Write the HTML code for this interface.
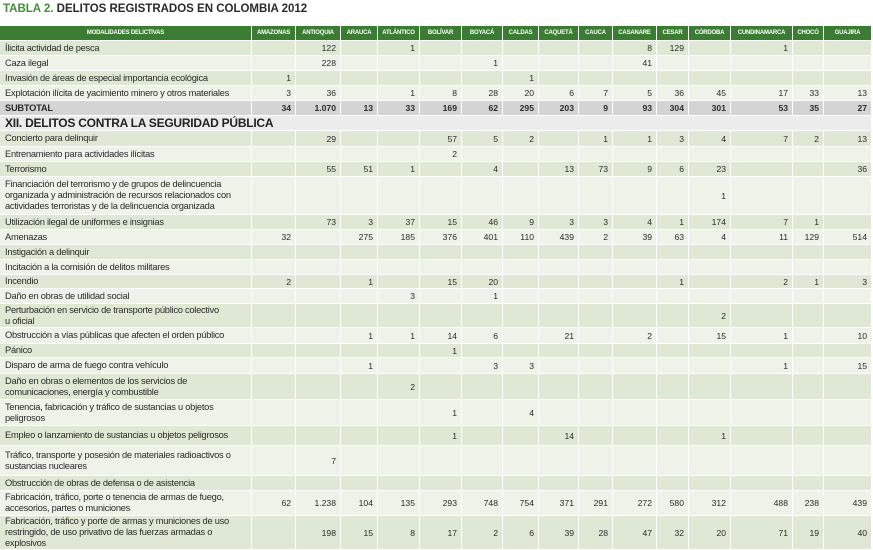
<!DOCTYPE html>
<html><head><meta charset="utf-8">
<style>
body{margin:0;width:873px;height:550px;background:#fff;overflow:hidden;font-family:"Liberation Sans",sans-serif;position:relative}
.c{position:absolute;box-sizing:border-box;border-right:1px solid #fff;border-bottom:1px solid #fff;font-size:8.6px;color:#2a2a2a;overflow:hidden}
.n{text-align:right;padding-right:4px;display:flex;align-items:center;justify-content:flex-end}
.l{padding-left:5px;display:flex;align-items:center;line-height:11px;letter-spacing:-0.25px;font-size:9.3px;white-space:pre-line}
.h{background:#3b7c33;color:#fff;font-weight:bold;font-size:6px;display:flex;align-items:center;justify-content:center;letter-spacing:-0.2px}
#title{position:absolute;left:3px;top:3px;font-size:11.5px;font-weight:bold;color:#2a2a2a}
#title span{color:#3f8f35}
</style></head><body>
<div id="title"><span>TABLA 2.</span> DELITOS REGISTRADOS EN COLOMBIA 2012</div>
<div id="tbl"></div>
<script>
const columns=["AMAZONAS","ANTIOQUIA","ARAUCA","ATLÁNTICO","BOLÍVAR","BOYACÁ","CALDAS","CAQUETÁ","CAUCA","CASANARE","CESAR","CÓRDOBA","CUNDINAMARCA","CHOCÓ","GUAJIRA"];
const labels=["Ílicita actividad de pesca","Caza ilegal","Invasión de áreas de especial importancia ecológica","Explotación ilícita de yacimiento minero y otros materiales","SUBTOTAL","XII. DELITOS CONTRA LA SEGURIDAD PÚBLICA","Concierto para delinquir","Entrenamiento para actividades ilícitas","Terrorismo","Financiación del terrorismo y de grupos de delincuencia\norganizada y administración de recursos relacionados con\nactividades terroristas y de la delincuencia organizada","Utilización ilegal de uniformes e insignias","Amenazas","Instigación a delinquir","Incitación a la comisión de delitos militares","Incendio","Daño en obras de utilidad social","Perturbación en servicio de transporte público colectivo\nu oficial","Obstrucción a vías públicas que afecten el orden público","Pánico","Disparo de arma de fuego contra vehículo","Daño en obras o elementos de los servicios de\ncomunicaciones, energía y combustible","Tenencia, fabricación y tráfico de sustancias u objetos\npeligrosos","Empleo o lanzamiento de sustancias u objetos peligrosos","Tráfico, transporte y posesión de materiales radioactivos o\nsustancias nucleares","Obstrucción de obras de defensa o de asistencia","Fabricación, tráfico, porte o tenencia de armas de fuego,\naccesorios, partes o municiones","Fabricación, tráfico y porte de armas y municiones de uso\nrestringido, de uso privativo de las fuerzas armadas o\nexplosivos"];
const rowValues=[
["","122","","1","","","","","","8","129","","1","",""],
["","228","","","","1","","","","41","","","","",""],
["1","","","","","","1","","","","","","","",""],
["3","36","","1","8","28","20","6","7","5","36","45","17","33","13"],
["34","1.070","13","33","169","62","295","203","9","93","304","301","53","35","27"],
null,
["","29","","","57","5","2","","1","1","3","4","7","2","13"],
["","","","","2","","","","","","","","","",""],
["","55","51","1","","4","","13","73","9","6","23","","","36"],
["","","","","","","","","","","","1","","",""],
["","73","3","37","15","46","9","3","3","4","1","174","7","1",""],
["32","","275","185","376","401","110","439","2","39","63","4","11","129","514"],
["","","","","","","","","","","","","","",""],
["","","","","","","","","","","","","","",""],
["2","","1","","15","20","","","","","1","","2","1","3"],
["","","","3","","1","","","","","","","","",""],
["","","","","","","","","","","","2","","",""],
["","","1","1","14","6","","21","","2","","15","1","","10"],
["","","","","1","","","","","","","","","",""],
["","","1","","","3","3","","","","","","1","","15"],
["","","","2","","","","","","","","","","",""],
["","","","","1","","4","","","","","","","",""],
["","","","","1","","","14","","","","1","","",""],
["","7","","","","","","","","","","","","",""],
["","","","","","","","","","","","","","",""],
["62","1.238","104","135","293","748","754","371","291","272","580","312","488","238","439"],
["","198","15","8","17","2","6","39","28","47","32","20","71","19","40"]
];
const colX=[0,252,296,341,378,420,462,503,539,579,613,657,689,731,793,824,872];
const rowY=[41,56,71,86,101,116,131,147,162,177,215,230,245,260,275,289,304,328,344,358,374,400,426,446,476,491,516,550];
const tbl=document.getElementById('tbl');
function cell(x,y,w,h,cls,txt,bg){
  const d=document.createElement('div');
  d.className='c '+cls;
  d.style.left=x+'px';d.style.top=y+'px';d.style.width=w+'px';d.style.height=h+'px';
  if(bg)d.style.background=bg;
  d.textContent=txt;
  tbl.appendChild(d);return d;
}
let hd=cell(0,26,colX[1],15,'h','MODALIDADES DELICTIVAS');


columns.forEach((c,i)=>{
  const d=cell(colX[i+1],26,colX[i+2]-colX[i+1],15,'h',c);
  
  
});
let alt=0;
labels.forEach((lab,r)=>{
  const y=rowY[r],h=rowY[r+1]-rowY[r];
  const vals=rowValues[r];
  if(!vals){
    const d=cell(0,y,colX[16],h,'l',lab,'#ececec');
    d.style.fontSize='12px';d.style.fontWeight='bold';d.style.color='#222';
    
    
    alt=0;return;
  }
  let bg;
  if(lab==='SUBTOTAL')bg='#d4d4d4';
  else{bg=alt%2===0?'#dfe8d5':'#eef2e9';alt++;}
  const d=cell(0,y,colX[1],h,'l',lab,bg);
  if(lab==='SUBTOTAL'){d.style.fontWeight='bold';}
  
  
  vals.forEach((v,i)=>{
    const e=cell(colX[i+1],y,colX[i+2]-colX[i+1],h,'n',v,bg);
    if(lab==='SUBTOTAL'){e.style.fontWeight='bold';}
    
    
  });
});
</script>
</body></html>
